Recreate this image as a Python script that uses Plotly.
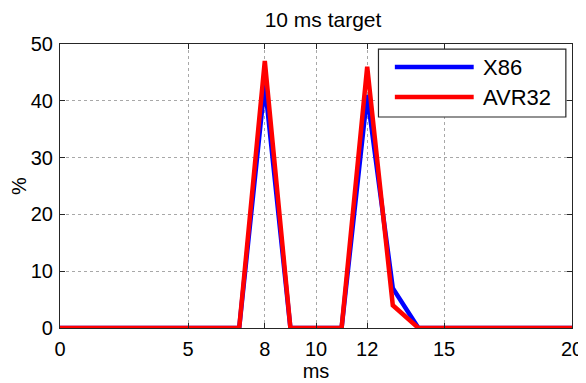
import plotly.graph_objects as go

x_ms = list(range(0, 21))
x86 = [0, 0, 0, 0, 0, 0, 0, 0, 43, 0, 0, 0, 41, 7, 0, 0, 0, 0, 0, 0, 0]
avr32 = [0, 0, 0, 0, 0, 0, 0, 0, 47, 0, 0, 0, 46, 4, 0, 0, 0, 0, 0, 0, 0]
x_ticks = [0, 5, 8, 10, 12, 15, 20]
y_ticks = [0, 10, 20, 30, 40, 50]
series_names = ["X86", "AVR32"]
series_colors = ["#0000FF", "#FF0000"]

FONT = "Liberation Sans, Arial, sans-serif"

fig = go.Figure()
for name, ys, col in zip(series_names, [x86, avr32], series_colors):
    fig.add_trace(go.Scatter(x=x_ms, y=ys, mode="lines", name=name,
                             line=dict(color=col, width=4.5)))

axis_common = dict(showline=True, linecolor="#262626", linewidth=1.2, mirror="ticks",
                   ticks="inside", ticklen=5, tickcolor="#262626", automargin=False,
                   showgrid=True, gridcolor="#a8a8a8", griddash="dot", gridwidth=1,
                   zeroline=False, tickfont=dict(family=FONT, size=20, color="black"))

fig.update_xaxes(range=[0, 20], tickvals=x_ticks, ticktext=[str(v) for v in x_ticks],
                 title=dict(text="ms", font=dict(family=FONT, size=20, color="black"), standoff=0),
                 ticklabelstandoff=3,
                 **axis_common)
fig.update_yaxes(range=[0, 50], tickvals=y_ticks,
                 title=dict(text="%", font=dict(family=FONT, size=20, color="black"), standoff=2),
                 ticklabelstandoff=2,
                 **axis_common)

# Legend box drawn manually to mimic MATLAB legend
lx0, lx1, ly0, ly1 = 0.622, 0.988, 0.743, 0.982
fig.add_shape(type="rect", xref="paper", yref="paper", x0=lx0, x1=lx1, y0=ly0, y1=ly1,
              line=dict(color="#262626", width=1.2), fillcolor="white", layer="above")
ys_leg = [0.919, 0.813]
for name, col, yl in zip(series_names, series_colors, ys_leg):
    fig.add_shape(type="line", xref="paper", yref="paper", x0=0.654, x1=0.808, y0=yl, y1=yl,
                  line=dict(color=col, width=4.5), layer="above")
    fig.add_annotation(xref="paper", yref="paper", x=0.822, y=yl, text=name, showarrow=False,
                       xanchor="left", yanchor="middle",
                       font=dict(family=FONT, size=22, color="black"))

# page body has an 8px margin, so the figure is made 8px smaller and offset accordingly
fig.update_layout(
    width=578, height=375,
    margin=dict(l=52, r=14, t=36, b=55),
    paper_bgcolor="white", plot_bgcolor="white",
    showlegend=False,
    title=dict(text="10 ms target", x=0.545, xanchor="center", y=0.968, yanchor="middle",
               font=dict(family=FONT, size=21, color="black")),
)

fig.write_html("out.html")
